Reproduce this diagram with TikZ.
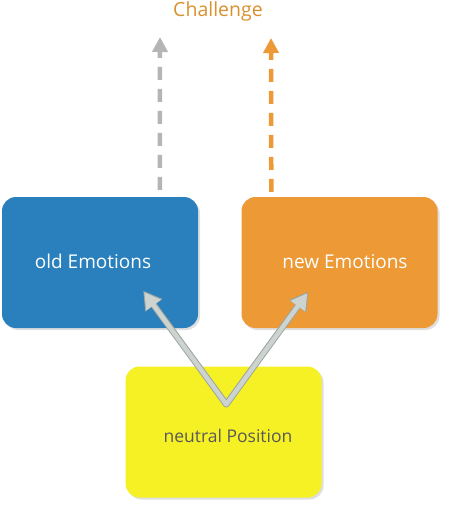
\documentclass[tikz,border=0pt]{standalone}
\usepackage{fontspec}
\setmainfont{Open Sans}
\usetikzlibrary{arrows.meta,shadows,calc}

\definecolor{oldblue}{HTML}{2A7FBD}
\definecolor{neworange}{HTML}{EC9936}
\definecolor{neuyellow}{HTML}{F5F125}
\definecolor{chalorange}{HTML}{D9912E}
\definecolor{dashgray}{HTML}{B5B5B5}
\definecolor{vgray}{HTML}{CDD4D0}
\definecolor{vedge}{HTML}{9DA5A1}

\begin{document}
\begin{tikzpicture}[x=1pt,y=-1pt]

    \tikzset{box/.style={%
      rectangle,%
      rounded corners=14pt,%
      minimum width=196pt,%
      minimum height=131pt,%
      drop shadow={shadow xshift=2pt,shadow yshift=-2pt,opacity=0.25}}%
    };

    \tikzset{boxtext/.style={font=\fontsize{19}{22}\selectfont}};

    \tikzset{dasharrow/.style={line width=4.5pt, dash pattern=on 13pt off 9pt,
      -{Triangle[length=15pt,width=15pt]}}};
    \tikzset{varrow/.style={line width=4.5pt, draw=vgray, line join=round,
      {Triangle[length=16pt,width=17pt]}-{Triangle[length=16pt,width=17pt]}}};
    \tikzset{varrowedge/.style={line width=6.5pt, draw=vedge, line join=round,
      {Triangle[length=18pt,width=20pt]}-{Triangle[length=18pt,width=20pt]}}};

    \useasboundingbox (0,0) rectangle (448,506);

    %%%%%%%%%%%%%%%
    %   boxes     %
    %%%%%%%%%%%%%%%
    \node [box, fill=oldblue,
      label={[boxtext, text=white, xshift=-7pt, yshift=1pt]center:old Emotions}] (old) at (100,262.5) {};
    \node [box, fill=neworange,
      label={[boxtext, text=white, xshift=5.5pt, yshift=1pt]center:new Emotions}] (new) at (339.5,262.5) {};
    \node [box, fill=neuyellow,
      label={[text=black!65, font=\fontsize{17.5}{20}\selectfont, xshift=4.5pt, yshift=-4pt]center:neutral Position}] (neu) at (223.5,432) {};

    \node [text=chalorange, font=\fontsize{19.5}{22}\selectfont] (chal) at (218,11) {Challenge};

    %%%%%%%%%%%%%%%
    %   arrows    %
    %%%%%%%%%%%%%%%
    \coordinate (oldtop) at ($(old.north west)+(158,-7)$);
    \coordinate (newtop) at ($(new.north west)+(30,-5)$);
    \coordinate (oldend) at (160,37);
    \coordinate (newend) at (271,38);
    \coordinate (vtx) at ($(neu.north west)+(101,38)$);
    \coordinate (oldtip) at ($(old.south east)+(-54,-36)$);
    \coordinate (newtip) at ($(new.south west)+(66,-35)$);
    \coordinate (oldtipe) at ($(old.south east)+(-55,-37.5)$);
    \coordinate (newtipe) at ($(new.south west)+(67,-36.5)$);

    \draw [dasharrow, draw=dashgray] (oldtop) -- (oldend);
    \draw [dasharrow, draw=neworange] (newtop) -- (newend);
    \draw [varrowedge] (oldtipe) -- (vtx) -- (newtipe);
    \draw [varrow] (oldtip) -- (vtx) -- (newtip);

  \end{tikzpicture}
\end{document}
